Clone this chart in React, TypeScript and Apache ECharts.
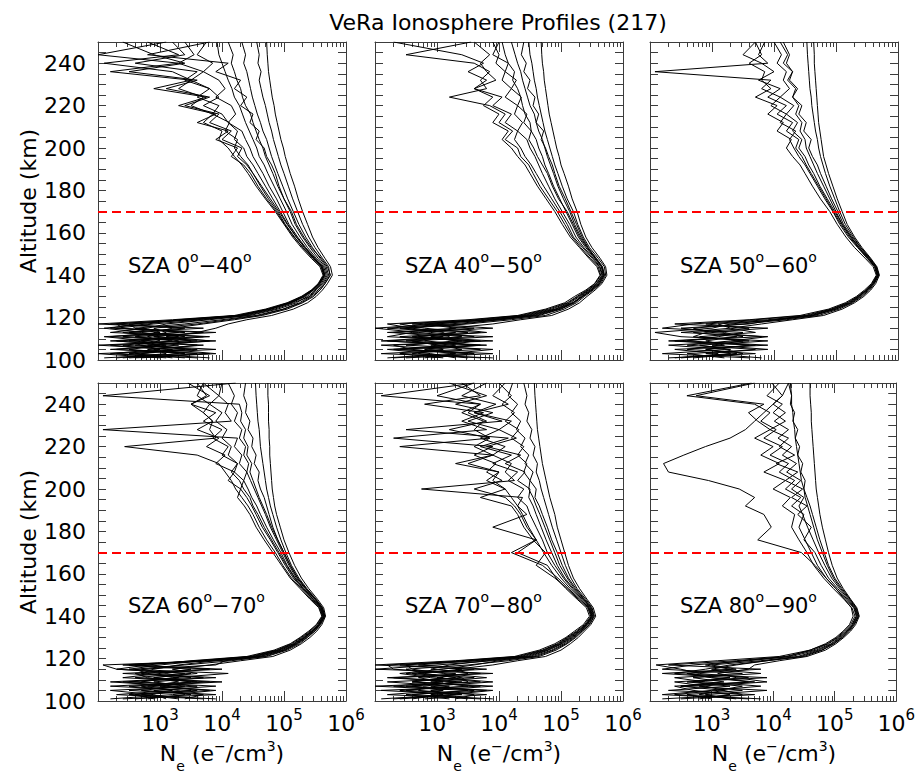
import React, { useEffect, useRef } from "react";
import * as echarts from "echarts";

// ---------- data (log10 of electron density, e-/cm^3) ----------
const ALT = [101, 103, 105, 107, 109, 111, 113, 115, 117, 119, 121, 124, 127, 130, 133, 136, 140, 144, 148, 153, 158, 164, 170, 176, 182, 188, 192, 196, 200, 204, 208, 212, 216, 220, 224, 228, 232, 236, 240, 244, 250];

const SZA_00_40 = [
  [3.2, 2.6, 3.5, 2.9, 3.8, 3.1, 3.6, 3.9, 4.1, 4.4, 4.8, 5.15, 5.38, 5.52, 5.62, 5.7, 5.78, 5.75, 5.66, 5.55, 5.46, 5.38, 5.3, 5.23, 5.17, 5.1, 5.06, 5.02, 4.99, 4.95, 4.92, 4.89, 4.86, 4.84, 4.81, 4.79, 4.77, 4.75, 4.74, 4.73, 4.72],
  [2.4, 3.3, 2.8, 3.7, 2.5, 3.4, 2.9, 3.2, 3.7, 4.2, 4.65, 5.05, 5.3, 5.48, 5.58, 5.66, 5.74, 5.72, 5.62, 5.5, 5.4, 5.3, 5.22, 5.14, 5.07, 5.0, 4.95, 4.91, 4.87, 4.83, 4.8, 4.76, 4.73, 4.7, 4.66, 4.63, 4.6, 4.63, 4.58, 4.6, 4.56],
  [3.6, 2.2, 3.0, 2.7, 3.9, 2.4, 3.3, 2.6, 3.4, 4.0, 4.55, 4.98, 5.25, 5.42, 5.55, 5.64, 5.72, 5.68, 5.58, 5.46, 5.35, 5.24, 5.15, 5.06, 4.98, 4.9, 4.85, 4.8, 4.76, 4.72, 4.66, 4.62, 4.57, 4.53, 4.49, 4.46, 4.43, 4.4, 4.35, 4.38, 4.32],
  [2.1, 3.4, 2.5, 3.1, 2.3, 3.7, 2.2, 2.8, 3.1, 3.8, 4.45, 4.9, 5.2, 5.38, 5.52, 5.62, 5.7, 5.66, 5.55, 5.42, 5.3, 5.18, 5.1, 5.0, 4.9, 4.82, 4.76, 4.7, 4.66, 4.6, 4.55, 4.5, 4.46, 4.38, 4.33, 4.3, 4.24, 4.2, 4.15, 4.18, 4.1],
  [3.0, 2.0, 3.6, 2.4, 3.2, 2.6, 3.9, 2.3, 2.9, 3.7, 4.4, 4.85, 5.15, 5.42, 5.5, 5.6, 5.68, 5.64, 5.52, 5.38, 5.26, 5.13, 5.04, 4.94, 4.84, 4.74, 4.68, 4.6, 4.56, 4.5, 4.44, 4.38, 4.33, 4.28, 4.2, 4.16, 4.1, 4.05, 4.0, 3.95, 3.92],
  [2.5, 3.8, 2.2, 3.3, 2.8, 2.1, 3.4, 2.6, 2.5, 3.6, 4.35, 4.8, 5.12, 5.35, 5.48, 5.58, 5.66, 5.62, 5.5, 5.35, 5.22, 5.08, 4.98, 4.88, 4.76, 4.66, 4.58, 4.5, 4.45, 4.38, 4.32, 4.1, 4.22, 4.15, 3.9, 4.05, 3.95, 3.7, 3.85, 3.6, 3.75],
  [3.8, 2.7, 3.2, 2.0, 3.5, 3.0, 2.4, 3.7, 2.2, 3.4, 4.3, 4.78, 5.1, 5.32, 5.46, 5.56, 5.64, 5.6, 5.48, 5.33, 5.2, 5.06, 4.94, 4.82, 4.7, 4.58, 4.5, 4.4, 4.35, 4.2, 4.25, 4.1, 4.0, 3.7, 3.95, 3.8, 3.5, 3.7, 3.3, 3.55, 3.4],
  [2.3, 3.1, 2.9, 3.6, 2.2, 3.3, 2.7, 2.1, 2.8, 3.3, 4.25, 4.75, 5.08, 5.3, 5.45, 5.56, 5.65, 5.6, 5.46, 5.3, 5.17, 5.02, 4.9, 4.75, 4.62, 4.5, 4.42, 4.3, 4.2, 4.25, 4.05, 4.12, 3.85, 3.95, 3.6, 3.8, 3.4, 3.6, 2.6, 3.4, 3.2],
  [3.4, 2.5, 3.9, 2.6, 3.0, 2.8, 3.1, 2.9, 3.6, 4.1, 4.6, 5.0, 5.28, 5.45, 5.58, 5.66, 5.75, 5.7, 5.6, 5.44, 5.32, 5.2, 5.12, 5.0, 4.92, 4.86, 4.8, 4.72, 4.68, 4.55, 4.6, 4.45, 4.5, 4.3, 4.4, 4.2, 4.3, 3.9, 4.1, 2.8, 3.8],
  [2.7, 3.6, 2.3, 3.0, 2.7, 3.8, 2.5, 3.4, 2.0, 3.2, 4.2, 4.7, 5.05, 5.28, 5.44, 5.55, 5.63, 5.58, 5.44, 5.28, 5.14, 5.0, 4.86, 4.7, 4.55, 4.42, 4.32, 4.2, 4.1, 3.95, 4.0, 3.7, 3.85, 3.5, 3.7, 3.3, 3.5, 2.2, 3.3, 2.0, 3.1],
  [3.1, 2.3, 3.4, 2.8, 3.6, 2.2, 3.0, 2.4, 2.3, 3.5, 4.3, 4.76, 5.1, 5.33, 5.47, 5.58, 5.66, 5.62, 5.49, 5.34, 5.2, 5.05, 4.92, 4.78, 4.64, 4.5, 4.4, 4.25, 4.32, 4.0, 4.15, 3.8, 3.95, 3.4, 3.8, 3.1, 3.6, 2.5, 3.4, 2.9, 2.4],
  [2.6, 3.9, 3.1, 2.2, 3.3, 2.9, 3.7, 2.2, 2.6, 3.4, 4.28, 4.74, 5.07, 5.3, 5.45, 5.57, 5.65, 5.61, 5.47, 5.31, 5.16, 5.01, 4.88, 4.72, 4.58, 4.46, 4.35, 4.15, 4.25, 3.9, 4.1, 3.6, 3.9, 3.3, 3.75, 2.9, 3.5, 3.2, 2.1, 3.3, 2.8],
];

const SZA_40_50 = [
  [3.1, 2.4, 3.7, 2.9, 3.4, 2.6, 3.8, 3.2, 3.9, 4.35, 4.85, 5.12, 5.3, 5.42, 5.55, 5.66, 5.74, 5.72, 5.63, 5.5, 5.4, 5.32, 5.26, 5.18, 5.12, 5.05, 5.0, 4.97, 4.93, 4.9, 4.87, 4.84, 4.81, 4.79, 4.77, 4.75, 4.73, 4.72, 4.7, 4.69, 4.68],
  [2.3, 3.5, 2.8, 3.3, 2.2, 3.6, 2.9, 2.5, 3.5, 4.2, 4.75, 5.05, 5.25, 5.38, 5.52, 5.64, 5.72, 5.7, 5.6, 5.46, 5.36, 5.27, 5.2, 5.1, 5.02, 4.95, 4.9, 4.86, 4.82, 4.78, 4.74, 4.71, 4.68, 4.65, 4.62, 4.6, 4.57, 4.55, 4.53, 4.5, 4.48],
  [3.7, 2.6, 3.1, 2.1, 3.9, 2.7, 3.3, 2.2, 3.2, 4.05, 4.65, 5.0, 5.22, 5.35, 5.5, 5.62, 5.7, 5.67, 5.57, 5.43, 5.32, 5.22, 5.14, 5.04, 4.95, 4.88, 4.83, 4.78, 4.74, 4.7, 4.64, 4.6, 4.57, 4.5, 4.46, 4.42, 4.38, 4.35, 4.3, 4.26, 4.2],
  [2.5, 3.9, 2.4, 3.6, 2.8, 3.1, 2.3, 3.6, 2.6, 3.9, 4.55, 4.95, 5.2, 5.32, 5.47, 5.6, 5.68, 5.65, 5.54, 5.4, 5.28, 5.18, 5.08, 4.98, 4.88, 4.8, 4.74, 4.7, 4.64, 4.6, 4.52, 4.5, 4.42, 4.38, 4.35, 4.3, 4.22, 4.25, 4.15, 4.1, 4.05],
  [3.3, 2.9, 2.2, 3.8, 2.5, 3.4, 2.7, 2.0, 3.0, 3.8, 4.45, 4.9, 5.15, 5.3, 5.45, 5.58, 5.67, 5.63, 5.52, 5.37, 5.24, 5.14, 5.02, 4.9, 4.8, 4.7, 4.64, 4.58, 4.5, 4.45, 4.3, 4.38, 4.25, 4.3, 4.1, 4.2, 4.05, 4.1, 3.95, 4.0, 3.9],
  [2.8, 3.3, 2.6, 2.3, 3.7, 2.4, 3.5, 2.8, 2.4, 3.7, 4.4, 4.85, 5.12, 5.28, 5.44, 5.57, 5.66, 5.62, 5.5, 5.35, 5.2, 5.1, 4.98, 4.85, 4.72, 4.6, 4.52, 4.42, 4.35, 4.25, 4.3, 4.1, 4.2, 3.9, 4.05, 3.6, 3.95, 3.8, 3.7, 3.85, 3.6],
  [3.9, 2.1, 3.4, 3.0, 2.6, 3.9, 2.2, 3.3, 2.8, 3.6, 4.35, 4.8, 5.1, 5.26, 5.42, 5.55, 5.64, 5.6, 5.47, 5.32, 5.18, 5.06, 4.94, 4.8, 4.66, 4.55, 4.48, 4.35, 4.3, 4.1, 4.22, 4.0, 4.1, 3.85, 3.2, 3.8, 3.7, 3.85, 3.6, 2.5, 3.55],
  [2.2, 3.2, 3.9, 2.5, 3.3, 2.9, 3.7, 2.4, 3.4, 4.0, 4.6, 4.98, 5.2, 5.34, 5.5, 5.62, 5.7, 5.66, 5.55, 5.42, 5.3, 5.2, 5.1, 4.96, 4.86, 4.78, 4.7, 4.62, 4.56, 4.48, 4.52, 4.4, 4.45, 4.3, 4.36, 4.2, 4.28, 4.1, 4.15, 3.9, 4.0],
  [3.5, 2.7, 2.9, 3.7, 2.1, 3.2, 3.1, 2.6, 2.2, 3.5, 4.3, 4.75, 5.06, 5.22, 5.4, 5.54, 5.63, 5.58, 5.45, 5.3, 5.15, 5.02, 4.9, 4.76, 4.62, 4.5, 4.42, 4.3, 4.2, 4.05, 4.15, 3.9, 4.0, 3.75, 3.9, 3.6, 3.8, 3.5, 3.75, 3.4, 2.3],
  [2.9, 3.6, 2.3, 3.2, 3.6, 2.2, 2.6, 3.9, 2.9, 3.9, 4.5, 4.92, 5.18, 5.36, 5.48, 5.6, 5.69, 5.66, 5.56, 5.44, 5.34, 5.25, 5.16, 5.07, 4.97, 4.9, 4.86, 4.8, 4.75, 4.68, 4.72, 4.6, 4.64, 4.55, 4.58, 4.46, 4.5, 4.4, 4.44, 4.36, 4.4],
];

const SZA_50_60 = [
  [3.2, 2.6, 3.9, 3.0, 3.5, 2.8, 3.7, 3.3, 3.8, 4.3, 4.8, 5.1, 5.3, 5.45, 5.56, 5.64, 5.7, 5.66, 5.56, 5.42, 5.3, 5.18, 5.1, 5.02, 4.95, 4.88, 4.84, 4.8, 4.78, 4.76, 4.74, 4.72, 4.71, 4.7, 4.69, 4.68, 4.67, 4.66, 4.65, 4.65, 4.64],
  [2.5, 3.4, 2.9, 3.6, 2.4, 3.8, 3.0, 2.7, 3.5, 4.2, 4.72, 5.05, 5.27, 5.42, 5.54, 5.62, 5.69, 5.65, 5.55, 5.4, 5.28, 5.15, 5.06, 4.98, 4.9, 4.83, 4.79, 4.75, 4.72, 4.7, 4.67, 4.65, 4.63, 4.61, 4.6, 4.58, 4.57, 4.56, 4.55, 4.54, 4.53],
  [3.6, 2.2, 3.3, 2.8, 3.9, 2.5, 2.08, 3.0, 3.3, 4.05, 4.65, 5.0, 5.24, 5.38, 5.5, 5.6, 5.67, 5.63, 5.52, 5.37, 5.24, 5.1, 5.0, 4.9, 4.8, 4.7, 4.64, 4.58, 4.52, 4.5, 4.42, 4.45, 4.35, 4.4, 4.3, 4.35, 4.22, 4.3, 4.2, 4.25, 4.15],
  [2.3, 3.7, 2.6, 3.2, 2.9, 3.4, 2.7, 3.6, 2.9, 3.9, 4.6, 4.96, 5.22, 5.37, 5.5, 5.6, 5.68, 5.64, 5.53, 5.38, 5.24, 5.1, 4.98, 4.86, 4.74, 4.64, 4.56, 4.5, 4.4, 4.45, 4.3, 4.38, 4.2, 4.32, 4.1, 4.25, 4.15, 4.2, 4.05, 4.12, 4.0],
  [3.0, 3.1, 2.4, 3.9, 2.6, 3.1, 3.5, 2.2, 2.7, 3.7, 4.5, 4.92, 5.18, 5.35, 5.48, 5.58, 5.66, 5.62, 5.5, 5.35, 5.2, 5.06, 4.95, 4.82, 4.7, 4.58, 4.5, 4.4, 4.32, 4.25, 4.35, 4.1, 4.2, 3.95, 4.1, 3.8, 3.95, 2.08, 3.9, 3.75, 3.85],
  [2.7, 3.5, 3.2, 2.3, 3.6, 2.7, 2.9, 3.9, 2.4, 3.6, 4.42, 4.88, 5.15, 5.33, 5.46, 5.57, 5.65, 5.6, 5.47, 5.3, 5.16, 5.02, 4.9, 4.75, 4.62, 4.5, 4.42, 4.3, 4.2, 4.28, 4.05, 4.15, 3.9, 4.05, 3.7, 3.95, 3.8, 3.85, 3.6, 3.8, 3.7],
  [3.8, 2.9, 3.7, 2.6, 3.3, 3.9, 2.5, 3.3, 3.1, 4.1, 4.62, 5.0, 5.25, 5.4, 5.52, 5.61, 5.69, 5.65, 5.54, 5.4, 5.26, 5.12, 5.03, 4.93, 4.84, 4.75, 4.7, 4.62, 4.56, 4.6, 4.48, 4.52, 4.4, 4.45, 4.3, 4.38, 4.25, 4.3, 4.15, 4.22, 4.1],
  [2.4, 3.3, 2.9, 3.7, 2.3, 3.5, 3.2, 2.5, 3.6, 4.0, 4.55, 4.94, 5.2, 5.36, 5.49, 5.59, 5.67, 5.63, 5.51, 5.36, 5.22, 5.08, 4.96, 4.84, 4.72, 4.6, 4.52, 4.45, 4.35, 4.4, 4.2, 4.3, 4.05, 4.2, 3.9, 4.1, 3.75, 4.0, 3.8, 3.5, 3.7],
];

const SZA_60_70 = [
  [3.3, 2.7, 3.8, 3.0, 3.5, 2.9, 3.6, 3.2, 3.8, 4.3, 4.82, 5.1, 5.28, 5.42, 5.53, 5.61, 5.67, 5.64, 5.54, 5.4, 5.28, 5.17, 5.08, 5.0, 4.94, 4.88, 4.85, 4.83, 4.81, 4.8, 4.79, 4.78, 4.77, 4.77, 4.76, 4.76, 4.75, 4.75, 4.75, 4.74, 4.74],
  [2.6, 3.5, 2.9, 3.9, 2.5, 3.3, 2.8, 2.6, 3.4, 4.15, 4.72, 5.05, 5.25, 5.38, 5.5, 5.59, 5.66, 5.62, 5.52, 5.37, 5.24, 5.12, 5.03, 4.95, 4.88, 4.82, 4.78, 4.75, 4.72, 4.7, 4.68, 4.66, 4.64, 4.62, 4.61, 4.6, 4.58, 4.57, 4.56, 4.55, 4.54],
  [3.7, 2.3, 3.2, 2.7, 4.0, 2.6, 3.4, 2.3, 2.08, 3.95, 4.62, 5.0, 5.2, 5.35, 5.47, 5.57, 5.65, 5.6, 5.5, 5.34, 5.2, 5.08, 4.98, 4.88, 4.78, 4.7, 4.64, 4.58, 4.52, 4.46, 4.4, 4.43, 4.35, 4.38, 4.28, 4.32, 4.2, 4.25, 4.15, 4.2, 4.1],
  [2.4, 3.9, 2.7, 3.4, 2.9, 3.7, 2.4, 3.8, 2.6, 3.8, 4.55, 4.95, 5.18, 5.33, 5.46, 5.56, 5.64, 5.6, 5.48, 5.32, 5.18, 5.05, 4.95, 4.83, 4.72, 4.62, 4.56, 4.48, 4.42, 4.35, 4.4, 4.28, 4.32, 4.2, 4.25, 2.08, 4.15, 4.05, 4.1, 3.95, 4.0],
  [3.1, 2.9, 2.2, 3.6, 2.7, 3.2, 4.1, 2.5, 3.0, 3.7, 4.5, 4.9, 5.15, 5.3, 5.44, 5.55, 5.63, 5.58, 5.46, 5.3, 5.15, 5.02, 4.9, 4.78, 4.65, 4.55, 4.48, 4.4, 4.3, 4.35, 4.2, 4.25, 4.1, 4.15, 4.0, 4.08, 3.9, 4.0, 3.8, 3.95, 3.7],
  [2.8, 3.4, 3.3, 2.5, 3.8, 2.4, 3.0, 3.5, 2.4, 3.6, 4.45, 4.88, 5.12, 5.28, 5.42, 5.53, 5.62, 5.57, 5.44, 5.28, 5.12, 4.98, 4.86, 4.72, 4.6, 4.5, 4.42, 4.32, 4.22, 4.15, 4.05, 3.95, 3.6, 2.43, 3.9, 3.8, 3.85, 3.7, 3.8, 3.6, 3.7],
  [3.9, 2.5, 3.6, 3.1, 2.4, 3.9, 2.7, 2.9, 3.3, 3.9, 4.6, 4.98, 5.2, 5.34, 5.47, 5.57, 5.65, 5.61, 5.5, 5.35, 5.22, 5.1, 5.0, 4.9, 4.8, 4.72, 4.66, 4.6, 4.55, 4.5, 4.45, 4.48, 4.4, 4.42, 4.35, 4.38, 4.3, 4.32, 4.28, 2.08, 4.22],
  [2.2, 3.2, 3.9, 2.8, 3.3, 2.9, 3.5, 2.3, 2.8, 3.5, 4.4, 4.84, 5.1, 5.26, 5.4, 5.52, 5.61, 5.56, 5.42, 5.26, 5.1, 4.96, 4.82, 4.68, 4.55, 4.45, 4.36, 4.25, 4.3, 4.1, 4.2, 3.9, 4.05, 3.75, 3.95, 3.6, 3.85, 3.7, 3.5, 3.75, 3.6],
  [3.4, 3.7, 2.5, 3.3, 2.2, 3.5, 3.1, 2.7, 3.9, 4.05, 4.68, 5.02, 5.22, 5.37, 5.49, 5.58, 5.66, 5.62, 5.51, 5.36, 5.22, 5.1, 5.0, 4.9, 4.82, 4.76, 4.72, 4.68, 4.62, 4.58, 4.6, 4.52, 4.55, 4.48, 4.5, 4.42, 4.45, 4.38, 4.4, 4.35, 4.38],
  [2.9, 2.6, 3.5, 2.2, 3.6, 2.8, 2.6, 4.0, 2.5, 3.7, 4.52, 4.92, 5.16, 5.32, 5.45, 5.55, 5.63, 5.59, 5.47, 5.31, 5.17, 5.04, 4.92, 4.8, 4.68, 4.58, 4.5, 4.45, 4.35, 4.28, 4.15, 4.25, 4.0, 4.1, 3.85, 4.0, 3.7, 3.9, 3.5, 3.8, 3.45],
];

const SZA_70_80 = [
  [3.2, 2.5, 3.6, 2.9, 3.9, 3.0, 3.5, 3.3, 3.9, 4.3, 4.75, 5.0, 5.15, 5.28, 5.38, 5.48, 5.56, 5.52, 5.42, 5.3, 5.2, 5.12, 5.06, 5.0, 4.94, 4.9, 4.86, 4.82, 4.79, 4.76, 4.73, 4.7, 4.68, 4.66, 4.64, 4.62, 4.61, 4.6, 4.59, 4.58, 4.57],
  [2.4, 3.4, 2.1, 3.7, 2.6, 3.3, 2.8, 2.5, 3.5, 4.15, 4.65, 4.92, 5.1, 5.24, 5.35, 5.46, 5.54, 5.5, 5.4, 5.26, 5.16, 5.07, 5.0, 4.93, 4.86, 4.8, 4.76, 4.72, 4.68, 4.65, 4.6, 4.62, 4.55, 4.58, 4.5, 4.53, 4.45, 4.48, 4.42, 4.45, 4.4],
  [3.7, 2.2, 3.1, 2.6, 3.4, 2.3, 3.9, 2.0, 3.0, 3.9, 4.55, 4.85, 5.05, 5.2, 5.32, 5.43, 5.52, 5.48, 5.37, 5.22, 5.1, 4.98, 4.9, 4.82, 4.74, 4.66, 4.6, 4.55, 4.48, 4.5, 4.4, 4.45, 4.3, 4.4, 4.2, 4.32, 4.1, 4.25, 4.05, 4.2, 4.0],
  [2.8, 3.8, 2.5, 3.2, 2.2, 3.6, 2.7, 3.4, 2.4, 3.7, 4.45, 4.78, 5.0, 5.16, 5.3, 5.41, 5.5, 5.46, 5.34, 5.18, 5.04, 4.9, 4.78, 4.7, 4.6, 4.5, 4.45, 4.3, 4.4, 4.15, 4.3, 3.9, 4.2, 3.7, 4.15, 2.5, 4.05, 3.6, 3.95, 3.4, 3.8],
  [3.5, 2.9, 3.8, 2.3, 3.1, 2.7, 3.3, 2.3, 2.2, 3.5, 4.35, 4.72, 4.96, 5.12, 5.27, 5.4, 5.5, 5.45, 5.3, 5.12, 4.95, 4.7, 4.2, 4.6, 3.9, 4.45, 4.3, 4.38, 2.75, 4.25, 4.1, 4.2, 3.9, 4.1, 3.7, 4.0, 3.5, 3.9, 3.3, 3.8, 3.2],
  [2.3, 3.3, 2.9, 3.9, 2.6, 3.1, 2.5, 3.8, 2.7, 3.6, 4.4, 4.75, 4.98, 5.14, 5.28, 5.4, 5.49, 5.44, 5.32, 5.15, 5.0, 4.85, 4.72, 4.6, 4.48, 4.38, 4.3, 4.2, 4.1, 3.8, 4.0, 3.5, 3.9, 2.4, 3.85, 3.6, 3.75, 3.4, 3.7, 2.1, 3.6],
  [3.9, 2.6, 3.5, 2.0, 3.7, 2.9, 2.4, 3.1, 3.6, 4.0, 4.6, 4.88, 5.08, 5.22, 5.34, 5.45, 5.53, 5.49, 5.38, 5.24, 5.12, 5.02, 4.94, 4.85, 4.78, 4.7, 4.65, 4.58, 4.6, 4.5, 4.55, 4.42, 4.48, 4.35, 4.42, 4.28, 4.35, 4.2, 4.3, 4.15, 4.22],
  [2.6, 3.1, 2.4, 3.5, 2.9, 3.8, 3.1, 2.6, 2.5, 3.4, 4.3, 4.7, 4.94, 5.1, 5.25, 5.38, 5.48, 5.43, 5.28, 5.1, 4.9, 4.6, 4.75, 4.55, 4.4, 4.3, 4.2, 3.7, 4.1, 3.9, 4.0, 3.3, 3.9, 3.6, 3.85, 3.2, 3.8, 3.5, 3.7, 3.0, 3.6],
  [3.3, 3.6, 2.7, 2.8, 3.3, 2.2, 3.7, 2.9, 3.2, 3.8, 4.5, 4.8, 5.02, 5.18, 5.31, 5.42, 5.51, 5.47, 5.36, 5.2, 5.06, 4.94, 4.85, 4.76, 4.68, 4.6, 4.55, 4.48, 4.5, 4.3, 4.42, 4.1, 4.35, 3.8, 4.28, 4.0, 4.2, 3.6, 4.15, 3.9, 4.1],
  [2.1, 3.2, 3.9, 2.5, 3.5, 3.4, 2.6, 3.6, 2.0, 3.3, 4.25, 4.65, 4.9, 5.08, 5.22, 5.36, 5.46, 5.41, 5.26, 5.08, 4.92, 4.78, 4.3, 4.6, 4.45, 4.35, 4.25, 4.1, 3.6, 4.05, 3.8, 3.95, 3.6, 3.9, 2.3, 3.8, 3.4, 3.75, 2.8, 3.7, 3.4],
];

const SZA_80_90 = [
  [3.0, 2.6, 3.5, 2.8, 3.9, 3.4, 3.1, 3.6, 3.7, 4.1, 4.55, 4.85, 5.02, 5.15, 5.26, 5.34, 5.4, 5.36, 5.26, 5.14, 5.04, 4.96, 4.9, 4.85, 4.8, 4.76, 4.74, 4.72, 4.7, 4.69, 4.68, 4.67, 4.66, 4.65, 4.64, 4.63, 4.62, 4.62, 4.61, 4.6, 4.6],
  [2.5, 3.7, 2.3, 3.3, 2.6, 3.9, 2.4, 2.9, 3.3, 3.9, 4.45, 4.78, 4.98, 5.12, 5.22, 5.31, 5.38, 5.34, 5.24, 5.1, 4.98, 4.88, 4.8, 4.72, 4.66, 4.6, 4.56, 4.52, 4.5, 4.46, 4.44, 4.42, 4.4, 4.38, 4.36, 4.35, 4.33, 4.32, 4.3, 4.3, 4.28],
  [3.6, 2.2, 3.0, 3.8, 2.9, 2.4, 3.5, 2.2, 2.7, 3.6, 4.3, 4.7, 4.94, 5.08, 5.2, 5.29, 5.36, 5.32, 5.2, 5.05, 4.9, 4.78, 4.68, 4.5, 4.62, 4.4, 4.55, 4.3, 4.48, 4.2, 4.4, 4.05, 4.35, 4.1, 4.25, 3.95, 4.2, 4.0, 4.15, 3.9, 4.1],
  [2.8, 3.3, 2.7, 2.4, 3.6, 3.0, 2.6, 3.8, 2.3, 3.4, 4.2, 4.65, 4.9, 5.06, 5.18, 5.28, 5.35, 5.31, 5.18, 5.02, 4.86, 4.72, 4.62, 4.52, 4.42, 4.5, 4.3, 4.45, 4.2, 4.35, 4.1, 4.25, 3.95, 4.15, 3.85, 4.05, 3.8, 3.95, 3.7, 2.6, 3.65],
  [3.3, 2.9, 3.9, 2.5, 3.2, 2.7, 3.8, 3.0, 3.4, 3.9, 4.5, 4.8, 4.99, 5.13, 5.24, 5.32, 5.39, 5.35, 5.25, 5.12, 5.0, 4.9, 4.83, 4.76, 4.7, 4.64, 4.6, 4.55, 4.5, 4.52, 4.45, 4.48, 4.4, 4.43, 4.36, 4.4, 4.32, 4.35, 4.28, 4.3, 4.25],
  [2.2, 3.5, 3.2, 2.9, 2.4, 3.6, 2.8, 2.5, 2.1, 3.1, 4.1, 4.6, 4.88, 5.04, 5.16, 5.26, 5.33, 5.28, 5.15, 4.98, 4.82, 4.66, 4.55, 4.42, 4.3, 4.35, 4.15, 4.28, 4.0, 4.2, 3.85, 4.1, 3.8, 4.0, 3.7, 3.95, 3.75, 3.6, 3.85, 2.75, 3.7],
  [3.8, 2.4, 3.1, 3.5, 2.7, 3.3, 2.2, 3.4, 3.0, 3.8, 4.4, 4.74, 4.96, 5.1, 5.21, 5.3, 5.37, 5.33, 5.22, 5.08, 4.95, 4.84, 4.74, 4.65, 4.56, 4.48, 4.42, 4.5, 4.3, 4.45, 4.22, 4.38, 4.15, 4.3, 4.08, 4.25, 4.02, 4.2, 4.0, 4.15, 3.98],
  [3.4, 2.8, 3.2, 2.5, 3.7, 3.0, 2.6, 3.3, 2.9, 3.5, 4.25, 4.6, 4.85, 5.02, 5.14, 5.24, 5.3, 5.27, 5.16, 5.02, 4.86, 4.68, 4.46, 3.75, 3.97, 3.85, 3.55, 3.7, 3.45, 2.95, 2.3, 2.22, 2.55, 2.9, 3.3, 3.55, 3.7, 3.85, 4.0, 4.15, 4.25],
];

const PANELS = [SZA_00_40, SZA_40_50, SZA_50_60, SZA_60_70, SZA_70_80, SZA_80_90];
const SZA_RANGES = [["0", "40"], ["40", "50"], ["50", "60"], ["60", "70"], ["70", "80"], ["80", "90"]];
const X_TICK_EXPONENTS = [3, 4, 5, 6];
const Y_TICK_LABELS = [100, 120, 140, 160, 180, 200, 220, 240];
const REFERENCE_ALT = 170;
const TITLE = "VeRa Ionosphere Profiles (217)";
const Y_NAME = "Altitude (km)";

// ---------- layout ----------
const FONT = "DejaVu Sans";
const COL_LEFT = [98, 375, 650];
const ROW_TOP = [42, 383];
const PW = 248;
const PH = 318;
const AXIS_COLOR = "#3c3c3c";

const MINOR_TICKS: number[] = [];
for (let n = 2; n < 6; n++) for (let k = 2; k <= 9; k++) MINOR_TICKS.push(n + Math.log10(k));

export default function App() {
  const ref = useRef<HTMLDivElement>(null);
  useEffect(() => {
    const chart = echarts.init(ref.current!, null, { renderer: "svg" });
    const grids: any[] = [];
    const xAxes: any[] = [];
    const yAxes: any[] = [];
    const series: any[] = [];
    const graphics: any[] = [];

    const lineStyle = { color: AXIS_COLOR, width: 1 };

    PANELS.forEach((profiles, g) => {
      const col = g % 3;
      const row = Math.floor(g / 3);
      const left = COL_LEFT[col];
      const top = ROW_TOP[row];
      grids.push({ left, top, width: PW, height: PH, containLabel: false });
      const xBase = {
        type: "value", gridIndex: g, min: 2, max: 6, interval: 1,
        splitLine: { show: false }, axisLine: { show: true, onZero: false, lineStyle },
      };
      const xi = xAxes.length;
      xAxes.push({
        ...xBase, position: "bottom",
        axisTick: { show: true, inside: true, length: 10, lineStyle },
        axisLabel: row === 1 ? {
          show: true, customValues: X_TICK_EXPONENTS, margin: 6,
          formatter: (v: number) => `{b|10}{s|${Math.round(v)}}`,
          rich: {
            b: { fontSize: 22, fontFamily: FONT, color: "#000", padding: [5, 0, 0, 0] },
            s: { fontSize: 15, fontFamily: FONT, color: "#000", verticalAlign: "top" },
          },
        } : { show: false },
      });
      xAxes.push({
        ...xBase, position: "bottom", axisLine: { show: false },
        axisTick: { show: true, inside: true, length: 5, customValues: MINOR_TICKS, lineStyle },
        axisLabel: { show: false },
      });
      xAxes.push({
        ...xBase, position: "top",
        axisTick: { show: true, inside: true, length: 10, lineStyle },
        axisLabel: { show: false },
      });
      xAxes.push({
        ...xBase, position: "top", axisLine: { show: false },
        axisTick: { show: true, inside: true, length: 5, customValues: MINOR_TICKS, lineStyle },
        axisLabel: { show: false },
      });
      const yi = yAxes.length;
      const yBase = {
        type: "value", gridIndex: g, min: 100, max: 250, interval: 5,
        splitLine: { show: false }, axisLine: { show: true, onZero: false, lineStyle },
        axisTick: { show: true, inside: true, length: 8, lineStyle },
      };
      yAxes.push({
        ...yBase, position: "left",
        axisLabel: col === 0
          ? { show: true, customValues: Y_TICK_LABELS, margin: 12, fontSize: 22, fontFamily: FONT, color: "#000" }
          : { show: false },
      });
      yAxes.push({ ...yBase, position: "right", axisLabel: { show: false } });

      profiles.forEach((prof) => {
        series.push({
          type: "line", xAxisIndex: xi, yAxisIndex: yi, silent: true,
          symbol: "none", showSymbol: false, clip: true,
          lineStyle: { color: "#000", width: 1 },
          data: prof.map((v, i) => [v, ALT[i]]),
          z: 2,
        });
      });
      series.push({
        type: "line", xAxisIndex: xi, yAxisIndex: yi, silent: true, data: [], z: 5,
        markLine: {
          silent: true, symbol: "none", label: { show: false },
          lineStyle: { color: "#ff0000", type: [9, 5], width: 2 },
          data: [{ yAxis: REFERENCE_ALT }], z: 5,
        },
      });

      // SZA annotation
      const [a, b] = SZA_RANGES[g];
      graphics.push({
        type: "text", x: left + 30, y: row === 0 ? 263 : 603, z: 10,
        style: {
          text: `{b|SZA ${a}}{s|o}{b|\u2212${b}}{s|o}`,
          align: "left", verticalAlign: "middle", textAlign: "left", textVerticalAlign: "middle",
          rich: {
            b: { fontSize: 21, fontFamily: FONT, fill: "#000", color: "#000", padding: [5, 0, 0, 0] },
            s: { fontSize: 14, fontFamily: FONT, fill: "#000", color: "#000", verticalAlign: "top" },
          },
        },
      });
      if (row === 1) {
        graphics.push({
          type: "text", x: left + PW / 2, y: 755.5, z: 10,
          style: {
            text: "{b|N}{sub|e}{b| (e}{sup|\u2212}{b|/cm}{sup|3}{b|)}",
            align: "center", verticalAlign: "middle", textAlign: "center", textVerticalAlign: "middle",
            rich: {
              b: { fontSize: 22, fontFamily: FONT, fill: "#000", color: "#000", padding: [4, 0, 8, 0] },
              sup: { fontSize: 14, fontFamily: FONT, fill: "#000", color: "#000", verticalAlign: "top" },
              sub: { fontSize: 14, fontFamily: FONT, fill: "#000", color: "#000", verticalAlign: "bottom" },
            },
          },
        });
      }
      if (col === 0) {
        graphics.push({
          type: "text", x: 28, y: top + PH / 2, rotation: Math.PI / 2, z: 10,
          style: {
            text: Y_NAME, font: `22px "${FONT}"`, fill: "#000",
            align: "center", verticalAlign: "middle", textAlign: "center", textVerticalAlign: "middle",
          },
        });
      }
    });

    graphics.push({
      type: "text", x: 498, y: 22, z: 10,
      style: {
        text: TITLE, font: `22px "${FONT}"`, fill: "#000",
        align: "center", verticalAlign: "middle", textAlign: "center", textVerticalAlign: "middle",
      },
    });

    chart.setOption({
      animation: false,
      backgroundColor: "#ffffff",
      textStyle: { fontFamily: FONT },
      grid: grids,
      xAxis: xAxes,
      yAxis: yAxes,
      series,
      graphic: { elements: graphics },
    });
    return () => chart.dispose();
  }, []);
  return (
    <div
      ref={ref}
      style={{ position: "absolute", left: 0, top: 0, width: 918, height: 773, background: "#fff" }}
    />
  );
}
